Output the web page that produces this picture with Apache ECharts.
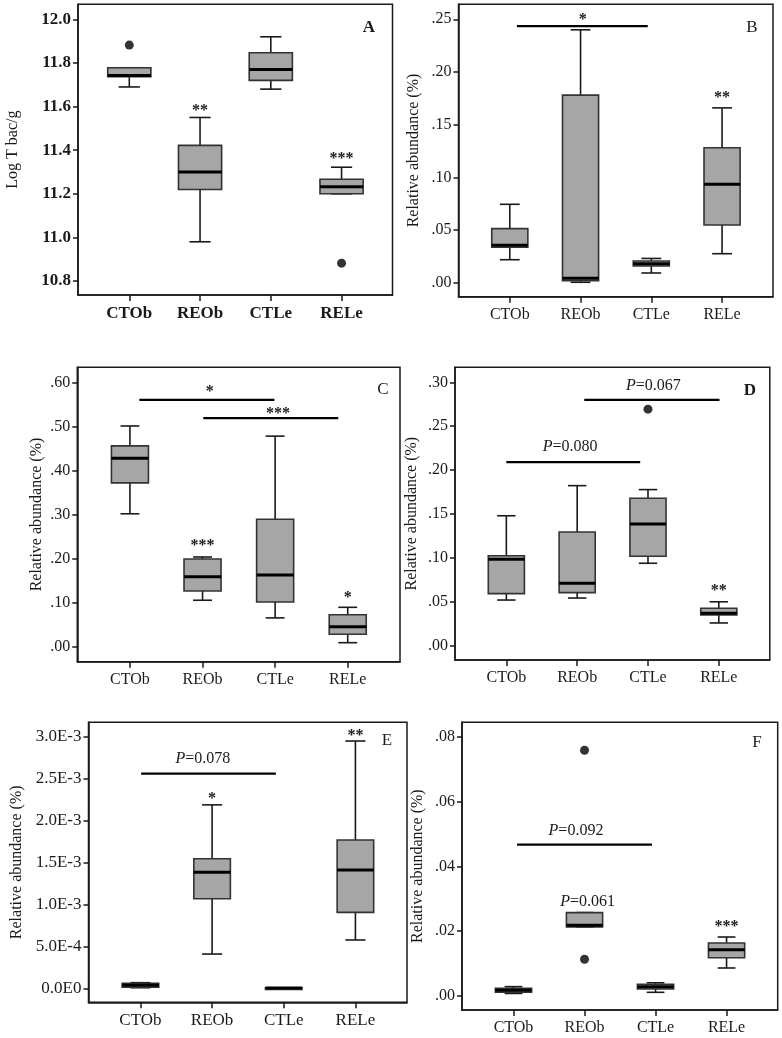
<!DOCTYPE html>
<html><head><meta charset="utf-8">
<script src="https://cdn.jsdelivr.net/npm/echarts@6/dist/echarts.min.js"></script>
<style>html,body{margin:0;padding:0;background:#fff}#c{width:782px;height:1038px}</style>
</head><body><div id="c"></div>
<script>
const categories = ['CTOb', 'REOb', 'CTLe', 'RELe'];

// Box statistics per category: [min, Q1, median, Q3, max]
const boxA = [[11.690, 11.737, 11.742, 11.778, 11.778], [10.980, 11.220, 11.300, 11.422, 11.550], [11.680, 11.720, 11.770, 11.847, 11.920], [11.200, 11.200, 11.232, 11.267, 11.322]];
const boxB = [[0.0218, 0.0336, 0.0355, 0.0513, 0.0744], [0.0004, 0.0019, 0.0042, 0.178, 0.240], [0.0092, 0.0158, 0.018, 0.0206, 0.023], [0.0275, 0.0548, 0.0934, 0.128, 0.1659]];
const boxC = [[0.302, 0.372, 0.428, 0.456, 0.501], [0.106, 0.127, 0.159, 0.1995, 0.204], [0.066, 0.102, 0.163, 0.2895, 0.478], [0.0098, 0.0288, 0.046, 0.073, 0.090]];
const boxD = [[0.052, 0.0593, 0.0984, 0.1025, 0.148], [0.0543, 0.0604, 0.0711, 0.1295, 0.1823], [0.0939, 0.1019, 0.1387, 0.168, 0.1778], [0.0259, 0.035, 0.0369, 0.0426, 0.050]];
const boxE = [[0.000007, 0.000012, 0.000036, 0.00006, 0.000067], [0.000409, 0.00107, 0.001385, 0.001547, 0.00219], [0.000002, 0.000003, 0.000004, 0.000005, 0.000006], [0.000577, 0.000907, 0.001412, 0.00177, 0.002952]];
const boxF = [[0.0007, 0.00105, 0.0017, 0.0023, 0.0028], [0.0213, 0.0213, 0.0218, 0.0257, 0.0257], [0.00105, 0.00207, 0.0028, 0.00353, 0.004], [0.00857, 0.01175, 0.01423, 0.0163, 0.01815]];

// Outliers: [category position, value]
const outliersA = [[1, 11.882], [4, 10.882]];
const outliersB = [];
const outliersC = [];
const outliersD = [[3, 0.2694]];
const outliersE = [];
const outliersF = [[2, 0.0759], [2, 0.01126]];

// Significance bars: [from, to, level]
const sigA = [];
const sigB = [[1.10, 2.95, 0.2434]];
const sigC = [[1.13, 2.99, 0.560], [2.01, 3.87, 0.519]];
const sigD = [[1.00, 2.89, 0.209], [2.10, 4.01, 0.280]];
const sigE = [[1.01, 2.89, 0.002562]];
const sigF = [[1.05, 2.95, 0.0467]];

// Annotations: [position, value, text]
const notesA = [[2, 11.593, '**'], [4, 11.374, '***']];
const notesB = [[2.03, 0.2525, '*'], [4, 0.178, '**']];
const notesC = [[2.10, 0.584, '*'], [3.04, 0.535, '***'], [2, 0.235, '***'], [4, 0.118, '*']];
const notesD = [[1.90, 0.226, 'P=0.080'], [3.075, 0.296, 'P=0.067'], [4, 0.0654, '**']];
const notesE = [[1.87, 0.002734, 'P=0.078'], [2, 0.002296, '*'], [4, 0.003044, '**']];
const notesF = [[1.88, 0.051, 'P=0.092'], [2.045, 0.0291, 'P=0.061'], [4, 0.0222, '***']];

// Y tick values and labels
const yTicksA = [10.8, 11.0, 11.2, 11.4, 11.6, 11.8, 12.0];
const yLabelsA = ['10.8', '11.0', '11.2', '11.4', '11.6', '11.8', '12.0'];
const yTicksB = [0, 0.05, 0.10, 0.15, 0.20, 0.25];
const yLabelsB = ['.00', '.05', '.10', '.15', '.20', '.25'];
const yTicksC = [0, 0.1, 0.2, 0.3, 0.4, 0.5, 0.6];
const yLabelsC = ['.00', '.10', '.20', '.30', '.40', '.50', '.60'];
const yTicksD = [0, 0.05, 0.10, 0.15, 0.20, 0.25, 0.30];
const yLabelsD = ['.00', '.05', '.10', '.15', '.20', '.25', '.30'];
const yTicksE = [0, 0.0005, 0.001, 0.0015, 0.002, 0.0025, 0.003];
const yLabelsE = ['0.0E0', '5.0E-4', '1.0E-3', '1.5E-3', '2.0E-3', '2.5E-3', '3.0E-3'];
const yTicksF = [0, 0.02, 0.04, 0.06, 0.08];
const yLabelsF = ['.00', '.02', '.04', '.06', '.08'];

const yNameA = 'Log T bac/g';
const yNameOther = 'Relative abundance (%)';
const panelLetters = ['A', 'B', 'C', 'D', 'E', 'F'];

const FONT = "'Liberation Serif','Times New Roman',serif";
const INK = '#1a1a1a';

const panels = [
  {box: boxA, out: outliersA, sig: sigA, notes: notesA, ticks: yTicksA, labels: yLabelsA, name: yNameA,
   grid: {left: 78, top: 4.3, width: 314.5, height: 290.7}, yMin: 10.736, yMax: 12.069, nameGap: 57,
   fs: 17, bold: true, boxW: 0.61, capW: 0.30, letter: [369, 28], letterBold: true},
  {box: boxB, out: outliersB, sig: sigB, notes: notesB, ticks: yTicksB, labels: yLabelsB, name: yNameOther,
   grid: {left: 458.5, top: 4.3, width: 314.5, height: 292.4}, yMin: -0.0133, yMax: 0.2642, nameGap: 37,
   fs: 16, bold: false, boxW: 0.51, capW: 0.28, letter: [752, 28], letterBold: false},
  {box: boxC, out: outliersC, sig: sigC, notes: notesC, ticks: yTicksC, labels: yLabelsC, name: yNameOther,
   grid: {left: 77.3, top: 367.3, width: 322.7, height: 294.4}, yMin: -0.0333, yMax: 0.634, nameGap: 33,
   fs: 16, bold: false, boxW: 0.51, capW: 0.26, letter: [383, 390], letterBold: false},
  {box: boxD, out: outliersD, sig: sigD, notes: notesD, ticks: yTicksD, labels: yLabelsD, name: yNameOther,
   grid: {left: 455, top: 367.3, width: 314.8, height: 292.7}, yMin: -0.0163, yMax: 0.3171, nameGap: 35,
   fs: 16, bold: false, boxW: 0.51, capW: 0.26, letter: [750, 391], letterBold: true},
  {box: boxE, out: outliersE, sig: sigE, notes: notesE, ticks: yTicksE, labels: yLabelsE, name: yNameOther,
   grid: {left: 88.5, top: 722.3, width: 318.5, height: 280}, yMin: -0.000167, yMax: 0.0031755, nameGap: 64,
   fs: 17, bold: false, boxW: 0.51, capW: 0.28, letter: [387, 741], letterBold: false},
  {box: boxF, out: outliersF, sig: sigF, notes: notesF, ticks: yTicksF, labels: yLabelsF, name: yNameOther,
   grid: {left: 462, top: 722.3, width: 315.7, height: 287.7}, yMin: -0.00442, yMax: 0.08455, nameGap: 36,
   fs: 16, bold: false, boxW: 0.51, capW: 0.25, letter: [757, 743], letterBold: false}
];

const X_MIN = 0.275, X_MAX = 4.72;

const option = {
  animation: false,
  backgroundColor: '#fff',
  grid: [], xAxis: [], yAxis: [], series: [], graphic: []
};

function nearestLabel(ticks, labels, v) {
  let best = 0, d = Infinity;
  ticks.forEach((t, i) => { const dd = Math.abs(t - v); if (dd < d) { d = dd; best = i; } });
  return labels[best];
}

panels.forEach((p, i) => {
  option.grid.push(Object.assign({show: true, borderColor: INK, borderWidth: 1.5, outerBoundsMode: 'none', containLabel: false}, p.grid));
  option.xAxis.push({
    type: 'value', gridIndex: i, min: X_MIN, max: X_MAX,
    splitLine: {show: false},
    axisLine: {show: true, onZero: false, lineStyle: {color: INK, width: 1.5}},
    axisTick: {show: true, length: 6, customValues: [1, 2, 3, 4], lineStyle: {color: INK, width: 1.5}},
    axisLabel: {show: true, customValues: [1, 2, 3, 4], margin: 10, color: INK, fontFamily: FONT, fontSize: p.fs,
      fontWeight: p.bold ? 'bold' : 'normal',
      formatter: v => categories[Math.round(v) - 1] || ''}
  });
  option.yAxis.push({
    type: 'value', gridIndex: i, min: p.yMin, max: p.yMax,
    name: p.name, nameLocation: 'middle', nameGap: p.nameGap, nameMoveOverlap: false,
    nameTextStyle: {fontFamily: FONT, fontSize: 16, color: INK},
    splitLine: {show: false},
    axisLine: {show: true, onZero: false, lineStyle: {color: INK, width: 1.5}},
    axisTick: {show: true, length: 5, customValues: p.ticks, lineStyle: {color: INK, width: 1.5}},
    axisLabel: {show: true, customValues: p.ticks, margin: 7, color: INK, fontFamily: FONT, fontSize: p.fs,
      fontWeight: p.bold ? 'bold' : 'normal',
      formatter: v => nearestLabel(p.ticks, p.labels, v)}
  });

  // boxes
  option.series.push({
    type: 'custom', xAxisIndex: i, yAxisIndex: i,
    data: p.box.map((b, j) => [j + 1].concat(b)),
    encode: {x: 0, y: [1, 2, 3, 4, 5]},
    renderItem: function (params, api) {
      const x = api.value(0);
      const mn = api.value(1), q1 = api.value(2), md = api.value(3), q3 = api.value(4), mx = api.value(5);
      const cx = api.coord([x, md])[0];
      const bl = api.coord([x - p.boxW / 2, md])[0], br = api.coord([x + p.boxW / 2, md])[0];
      const cl = api.coord([x - p.capW / 2, md])[0], cr = api.coord([x + p.capW / 2, md])[0];
      const yMn = api.coord([x, mn])[1], yQ1 = api.coord([x, q1])[1], yMd = api.coord([x, md])[1],
            yQ3 = api.coord([x, q3])[1], yMx = api.coord([x, mx])[1];
      const ls = {stroke: INK, lineWidth: 1.6};
      return {type: 'group', children: [
        {type: 'line', shape: {x1: cx, y1: yQ3, x2: cx, y2: yMx}, style: ls},
        {type: 'line', shape: {x1: cx, y1: yQ1, x2: cx, y2: yMn}, style: ls},
        {type: 'line', shape: {x1: cl, y1: yMx, x2: cr, y2: yMx}, style: ls},
        {type: 'line', shape: {x1: cl, y1: yMn, x2: cr, y2: yMn}, style: ls},
        {type: 'rect', shape: {x: bl, y: yQ3, width: br - bl, height: Math.max(yQ1 - yQ3, 1.5)},
          style: {fill: '#a6a6a6', stroke: '#333', lineWidth: 1.6}},
        {type: 'line', shape: {x1: bl, y1: yMd, x2: br, y2: yMd}, style: {stroke: '#000', lineWidth: 3}}
      ]};
    }
  });

  // outliers
  option.series.push({
    type: 'scatter', xAxisIndex: i, yAxisIndex: i, data: p.out,
    symbol: 'circle', symbolSize: 9, itemStyle: {color: '#000'}
  });

  // significance bars
  option.series.push({
    type: 'custom', xAxisIndex: i, yAxisIndex: i, data: p.sig,
    encode: {x: [0, 1], y: 2},
    renderItem: function (params, api) {
      const a = api.coord([api.value(0), api.value(2)]);
      const b = api.coord([api.value(1), api.value(2)]);
      return {type: 'line', shape: {x1: a[0], y1: a[1], x2: b[0], y2: b[1]}, style: {stroke: '#000', lineWidth: 2.2}};
    }
  });

  // annotations
  option.series.push({
    type: 'custom', xAxisIndex: i, yAxisIndex: i, data: p.notes.map(n => [n[0], n[1]]),
    encode: {x: 0, y: 1},
    renderItem: function (params, api) {
      const t = p.notes[params.dataIndex][2];
      const pt = api.coord([api.value(0), api.value(1)]);
      const isStar = t.indexOf('*') === 0;
      let text = t;
      if (t.indexOf('P=') === 0) text = '{i|P}{r|' + t.slice(1) + '}';
      return {type: 'text', x: pt[0], y: pt[1] + (isStar ? 3 : 0), style: {
        text: text, align: 'center', verticalAlign: 'middle', fill: INK,
        fontFamily: FONT, fontSize: 16, fontWeight: isStar ? 'bold' : 'normal',
        rich: {i: {fontFamily: FONT, fontSize: 16, fontStyle: 'italic', fill: INK},
               r: {fontFamily: FONT, fontSize: 16, fill: INK}}
      }};
    }
  });

  option.graphic.push({
    type: 'text', x: p.letter[0], y: p.letter[1],
    style: {text: panelLetters[i], fontFamily: FONT, fontSize: 17, fontWeight: p.letterBold ? 'bold' : 'normal',
      fill: INK, align: 'center', verticalAlign: 'middle'}
  });
});

const chart = echarts.init(document.getElementById('c'), null, {renderer: 'canvas'});
chart.setOption(option);
</script>
</body></html>
